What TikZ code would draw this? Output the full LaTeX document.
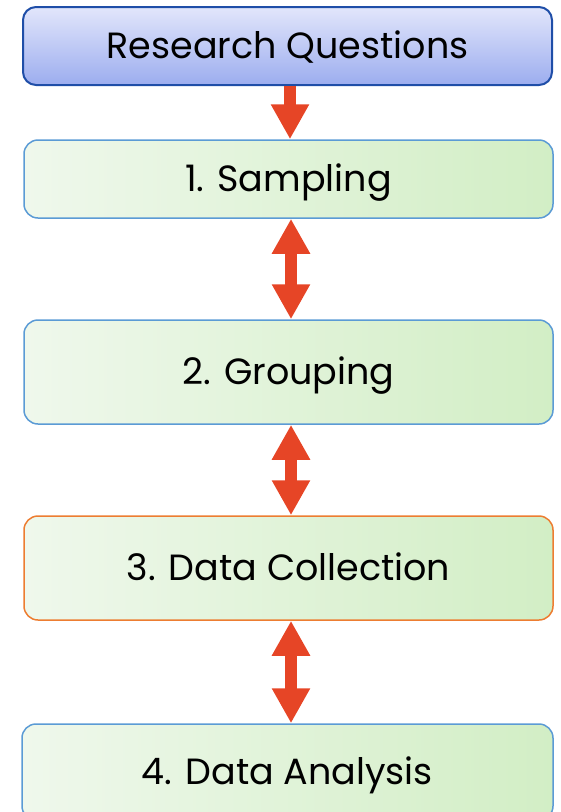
\documentclass[tikz,border=0pt]{standalone}
\usepackage{fontspec}
\setmainfont{Poppins}
\usepackage{xcolor}
\usepackage{tikz}
\usetikzlibrary{
  arrows.meta,
  positioning,
  calc
}
\definecolor{rqtop}{RGB}{226,230,251}
\definecolor{rqbottom}{RGB}{156,173,239}
\definecolor{rqborder}{RGB}{31,78,168}
\definecolor{greenleft}{RGB}{239,248,236}
\definecolor{greenright}{RGB}{210,238,197}
\definecolor{boxblue}{RGB}{91,155,213}
\definecolor{boxorange}{RGB}{237,125,49}
\definecolor{arrowred}{RGB}{230,69,38}

\begin{document}
\begin{tikzpicture}[
  x=1pt, y=1pt,
  topnode/.style={rectangle, rounded corners=13pt, draw=rqborder, line width=2pt,
    top color=rqtop, bottom color=rqbottom, minimum width=529pt, minimum height=78pt,
    font=\fontsize{36.5}{40}\selectfont, text height=25.5pt, text depth=0pt, inner sep=0pt},
  stepnode/.style={rectangle, rounded corners=14pt, draw=boxblue, line width=1.5pt,
    left color=greenleft, right color=greenright, minimum width=529pt,
    font=\fontsize{36.5}{40}\selectfont, text height=25.5pt, text depth=0pt, inner sep=0pt},
  flowarrow/.style={draw=arrowred, line width=12.5pt,
    -{Triangle[width=36pt 0 0, length=35pt 0 0]}},
  bothways/.style={flowarrow, {Triangle[width=36pt 0 0, length=35pt 0 0]}-{Triangle[width=36pt 0 0, length=35pt 0 0]}}
]
  \useasboundingbox (0,0) rectangle (561,-812);

  \node[topnode] (rq) at (287.5,-46) {Research Questions};
  \node[stepnode, minimum height=78pt] (sampling) at (288.5,-179) {1. Sampling};
  \node[stepnode, minimum height=104pt] (grouping) at (288.5,-372) {2. Grouping};
  \node[stepnode, minimum height=104pt, draw=boxorange] (collection) at (288.5,-568) {3. Data Collection};
  \node[stepnode, minimum height=96pt, minimum width=531pt] (analysis) at (287.5,-772) {4. Data Analysis};

  % red connectors between the stages
  \draw[flowarrow] ([xshift=2.5pt]rq.south) -- ([xshift=1.5pt]sampling.north);
  \draw[bothways] ([xshift=2.5pt]sampling.south) -- ([xshift=2.5pt]grouping.north);
  \draw[bothways] ([xshift=2.5pt]grouping.south) -- ([xshift=2.5pt]collection.north);
  \draw[bothways] ([xshift=2.5pt]collection.south) -- ([xshift=3.5pt]analysis.north);
\end{tikzpicture}
\end{document}
